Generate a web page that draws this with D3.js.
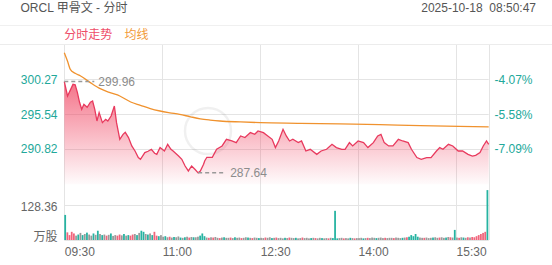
<!DOCTYPE html>
<html><head><meta charset="utf-8">
<script src="https://cdn.jsdelivr.net/npm/d3@7"></script>
<style>
html,body{margin:0;padding:0;background:#fff;}
svg text{font-family:"Liberation Sans",Arial,"Noto Sans CJK SC",sans-serif;white-space:pre;}
</style></head>
<body><svg id="c" width="552" height="265"></svg>
<script>
// ---- data ----
const title = "ORCL 甲骨文 - 分时";
const stamp = "2025-10-18  08:50:47";
const legendNames = ["分时走势", "均线"];
const tickMins = [0, 90, 180, 270, 360];
const tickLabels = ["09:30", "11:00", "12:30", "14:00", "15:30"];
const priceTicks = [300.27, 295.54, 290.82];
const pctTicks = ["-4.07%", "-5.58%", "-7.09%"];
const priceDomain = [286.09, 305.00];
const volTick = 128.36;
const volUnit = "万股";

const priceMins = [0,3,8,10,12,14,16,18,21,24,26,28,30,32,35,38,40,43,46,48,51,54,56,59,62,65,68,70,74,77,80,83,85,88,92,95,98,100,105,108,111,114,117,120,123,125,128,129,131,136,140,145,149,154,158,162,166,171,175,178,183,187,191,194,197,201,204,207,210,215,218,222,226,232,236,241,246,250,255,258,262,265,270,275,279,284,288,291,294,298,302,307,311,316,319,324,328,333,337,342,345,348,353,357,362,366,371,375,378,382,385,388,390];
const prices = [299.96,298.02,299.59,299.53,298.50,297.17,296.22,296.90,296.49,297.17,297.34,296.22,294.64,295.77,294.42,294.87,294.64,295.31,296.67,294.42,292.17,292.84,293.11,292.40,291.27,290.59,289.70,289.47,290.37,290.55,290.82,290.28,290.14,291.05,290.59,291.49,290.82,290.59,289.91,289.47,288.56,287.89,288.56,288.12,287.64,287.89,288.79,289.24,289.74,289.74,290.82,291.27,292.17,291.94,291.72,292.62,292.40,293.07,292.84,293.29,293.07,292.62,292.17,291.05,291.94,293.52,292.62,291.94,292.17,291.72,291.94,290.59,290.82,290.14,290.59,290.82,291.49,291.05,290.82,290.82,291.72,291.27,291.94,291.72,291.05,291.72,292.62,292.84,291.72,291.27,291.27,292.17,291.94,291.72,290.82,289.70,289.47,289.70,289.70,290.59,291.05,290.82,291.49,291.27,290.59,290.59,290.14,289.91,290.00,290.37,291.27,291.94,291.49];

const avgMins = [0,3,5.5,10,15,24,33,42,51,61,70,79,88,97,106,116,125,134,143,162,180,217,253,290,327,363,390];
const avgPrices = [303.87,302.70,301.62,301.08,300.72,299.82,299.01,298.47,298.02,297.21,296.76,296.31,295.99,295.75,295.54,295.21,294.94,294.77,294.64,294.51,294.42,294.33,294.24,294.15,294.02,293.92,293.86];

// volume per 2-minute bucket (万股)
const volumes = [
 92,28,18,30,24,16,20,26,18,22,27,20,16,24,19,
 34,22,18,20,16,19,24,15,18,16,20,17,22,16,18,
 16,20,22,18,26,34,30,22,20,24,18,30,16,14,18,
 12,14,10,12,9,11,10,13,9,8,10,12,9,11,10,
 10,12,16,24,14,9,8,10,9,11,8,7,9,10,8,
 8,9,7,10,8,9,7,8,10,9,8,7,9,8,7,
 8,7,9,8,10,7,8,9,7,8,6,8,7,9,8,
 7,8,6,7,9,7,8,6,7,8,7,6,8,7,6,
 7,6,8,7,107,6,7,8,6,7,6,8,7,6,7,
 7,8,6,7,8,7,9,8,7,8,9,7,8,7,8,
 8,7,9,8,7,8,9,10,12,18,14,22,12,9,8,
 8,9,7,8,9,10,8,9,10,8,9,11,10,9,37,
 9,8,10,9,8,10,9,11,10,14,18,22,26,30,183];
const volDir = (
 "duuuufdfdfdffdf"+"dfdfufdffuufdfd"+"uufdfddfdfduudf"+"fdfufdffdfdfufd"+"ffdddfufuffufdf"+
 "fufdffuffdfuffd"+"ffuffdfufffdfuf"+"fdffufffdfuffdf"+"fufdddffuffdfuf"+"ffdfufffdfffuff"+
 "fufffdfudddddff"+"ufffdffuffdfufd"+"fufdfufuuuuuuud").split("");

// ---- layout ----
const svg = d3.select("#c");
const L = 64.3, R = 488.7, pTop = 44.3, pBot = 184.3, vBase = 240;
const x = d3.scaleLinear().domain([0, 390]).range([L, R]);
const y = d3.scaleLinear().domain(priceDomain).range([pBot, pTop]);
const yv = d3.scaleLinear().domain([0, volTick * 2]).range([vBase, vBase - 70]);
const gridC = "#e4e4e4";
const teal = "#22a89a";

// header
svg.append("text").attr("x", 20.5).attr("y", 12).attr("font-size", 12).attr("fill", "#555").text(title);
svg.append("text").attr("x", 536).attr("y", 12).attr("text-anchor", "end").attr("font-size", 12).attr("fill", "#555").attr("xml:space", "preserve").text(stamp);
svg.append("line").attr("x1", 0).attr("x2", 552).attr("y1", 25.5).attr("y2", 25.5).attr("stroke", "#f0f0f0");
svg.append("line").attr("x1", 0).attr("x2", 552).attr("y1", 44.5).attr("y2", 44.5).attr("stroke", "#ececec");
svg.append("text").attr("x", 64.3).attr("y", 38.5).attr("font-size", 12).attr("fill", "#ee4d68").text(legendNames[0]);
svg.append("text").attr("x", 124.5).attr("y", 38.5).attr("font-size", 12).attr("fill", "#f29a38").text(legendNames[1]);

// vertical grid
const vg = tickMins.concat([390]);
svg.selectAll("line.vg").data(vg).enter().append("line")
  .attr("x1", d => Math.round(x(d)) + 0.5).attr("x2", d => Math.round(x(d)) + 0.5)
  .attr("y1", 45).attr("y2", vBase).attr("stroke", gridC);

// horizontal grid (price)
svg.selectAll("line.hg").data(priceTicks).enter().append("line")
  .attr("x1", L).attr("x2", R).attr("y1", d => Math.round(y(d)) + 0.5).attr("y2", d => Math.round(y(d)) + 0.5)
  .attr("stroke", gridC);
// volume grid
svg.append("line").attr("x1", L).attr("x2", R).attr("y1", Math.round(yv(volTick)) + 0.5).attr("y2", Math.round(yv(volTick)) + 0.5).attr("stroke", gridC);
svg.append("line").attr("x1", L).attr("x2", R).attr("y1", vBase + 0.5).attr("y2", vBase + 0.5).attr("stroke", gridC);

// watermark logo
svg.append("circle").attr("cx", 208).attr("cy", 131).attr("r", 23).attr("fill", "none").attr("stroke", "#000").attr("stroke-opacity", 0.06).attr("stroke-width", 2.5);

// price area
const defs = svg.append("defs");
const gr = defs.append("linearGradient").attr("id", "ag").attr("gradientUnits", "userSpaceOnUse")
  .attr("x1", 0).attr("x2", 0).attr("y1", 78).attr("y2", pBot);
gr.append("stop").attr("offset", 0).attr("stop-color", "#f03e5c").attr("stop-opacity", 0.75);
gr.append("stop").attr("offset", 1).attr("stop-color", "#f03e5c").attr("stop-opacity", 0.02);

const pdata = priceMins.map((m, i) => [m, prices[i]]);
svg.append("path").datum(pdata)
  .attr("d", d3.area().x(d => x(d[0])).y0(pBot).y1(d => y(d[1])))
  .attr("fill", "url(#ag)");
svg.append("path").datum(pdata)
  .attr("d", d3.line().x(d => x(d[0])).y(d => y(d[1])))
  .attr("fill", "none").attr("stroke", "#e83a5e").attr("stroke-width", 1.3);

// average line
const adata = avgMins.map((m, i) => [m, avgPrices[i]]);
svg.append("path").datum(adata)
  .attr("d", d3.line().curve(d3.curveMonotoneX).x(d => x(d[0])).y(d => y(d[1])))
  .attr("fill", "none").attr("stroke", "#f0922e").attr("stroke-width", 1.3);

// max / min markers
const iMax = d3.maxIndex(prices), iMin = d3.minIndex(prices);
[[iMax, 30], [iMin, 28]].forEach(([i, len]) => {
  const px = x(priceMins[i]), py = y(prices[i]);
  svg.append("line").attr("x1", px).attr("x2", px + len).attr("y1", py).attr("y2", py)
    .attr("stroke", "#999").attr("stroke-width", 1.5).attr("stroke-dasharray", "4,3");
  svg.append("text").attr("x", px + len + 4).attr("y", py).attr("dy", "0.35em")
    .attr("font-size", 12).attr("fill", "#8c8c8c").text(prices[i].toFixed(2));
});

// volume bars
const colors = { u: "#f0657c", d: "#26b3a1", f: "#9a9a9a" };
const bw = x(2) - x(0);
svg.selectAll("rect.v").data(volumes).enter().append("rect")
  .attr("x", (d, i) => x(i * 2))
  .attr("width", bw - 0.4)
  .attr("y", d => yv(d))
  .attr("height", d => vBase - yv(d))
  .attr("fill", (d, i) => colors[volDir[i]]);

// axis labels
svg.selectAll("text.pl").data(priceTicks).enter().append("text")
  .attr("x", 57.5).attr("y", d => y(d)).attr("dy", "0.35em").attr("text-anchor", "end")
  .attr("font-size", 12).attr("fill", teal).text(d => d.toFixed(2));
svg.selectAll("text.pr").data(pctTicks).enter().append("text")
  .attr("x", 494.5).attr("y", (d, i) => y(priceTicks[i])).attr("dy", "0.35em")
  .attr("font-size", 12).attr("fill", teal).text(d => d);
svg.append("text").attr("x", 57.5).attr("y", yv(volTick) + 2).attr("dy", "0.35em").attr("text-anchor", "end")
  .attr("font-size", 12).attr("fill", "#666").text(volTick.toFixed(2));
svg.append("text").attr("x", 57.5).attr("y", 236.5).attr("dy", "0.35em").attr("text-anchor", "end")
  .attr("font-size", 12).attr("fill", "#666").text(volUnit);
svg.selectAll("text.xl").data(tickMins).enter().append("text")
  .attr("x", d => x(d) + 0.5).attr("y", 252).attr("dy", "0.35em")
  .attr("font-size", 12).attr("fill", "#666").text((d, i) => tickLabels[i]);
</script></body></html>
